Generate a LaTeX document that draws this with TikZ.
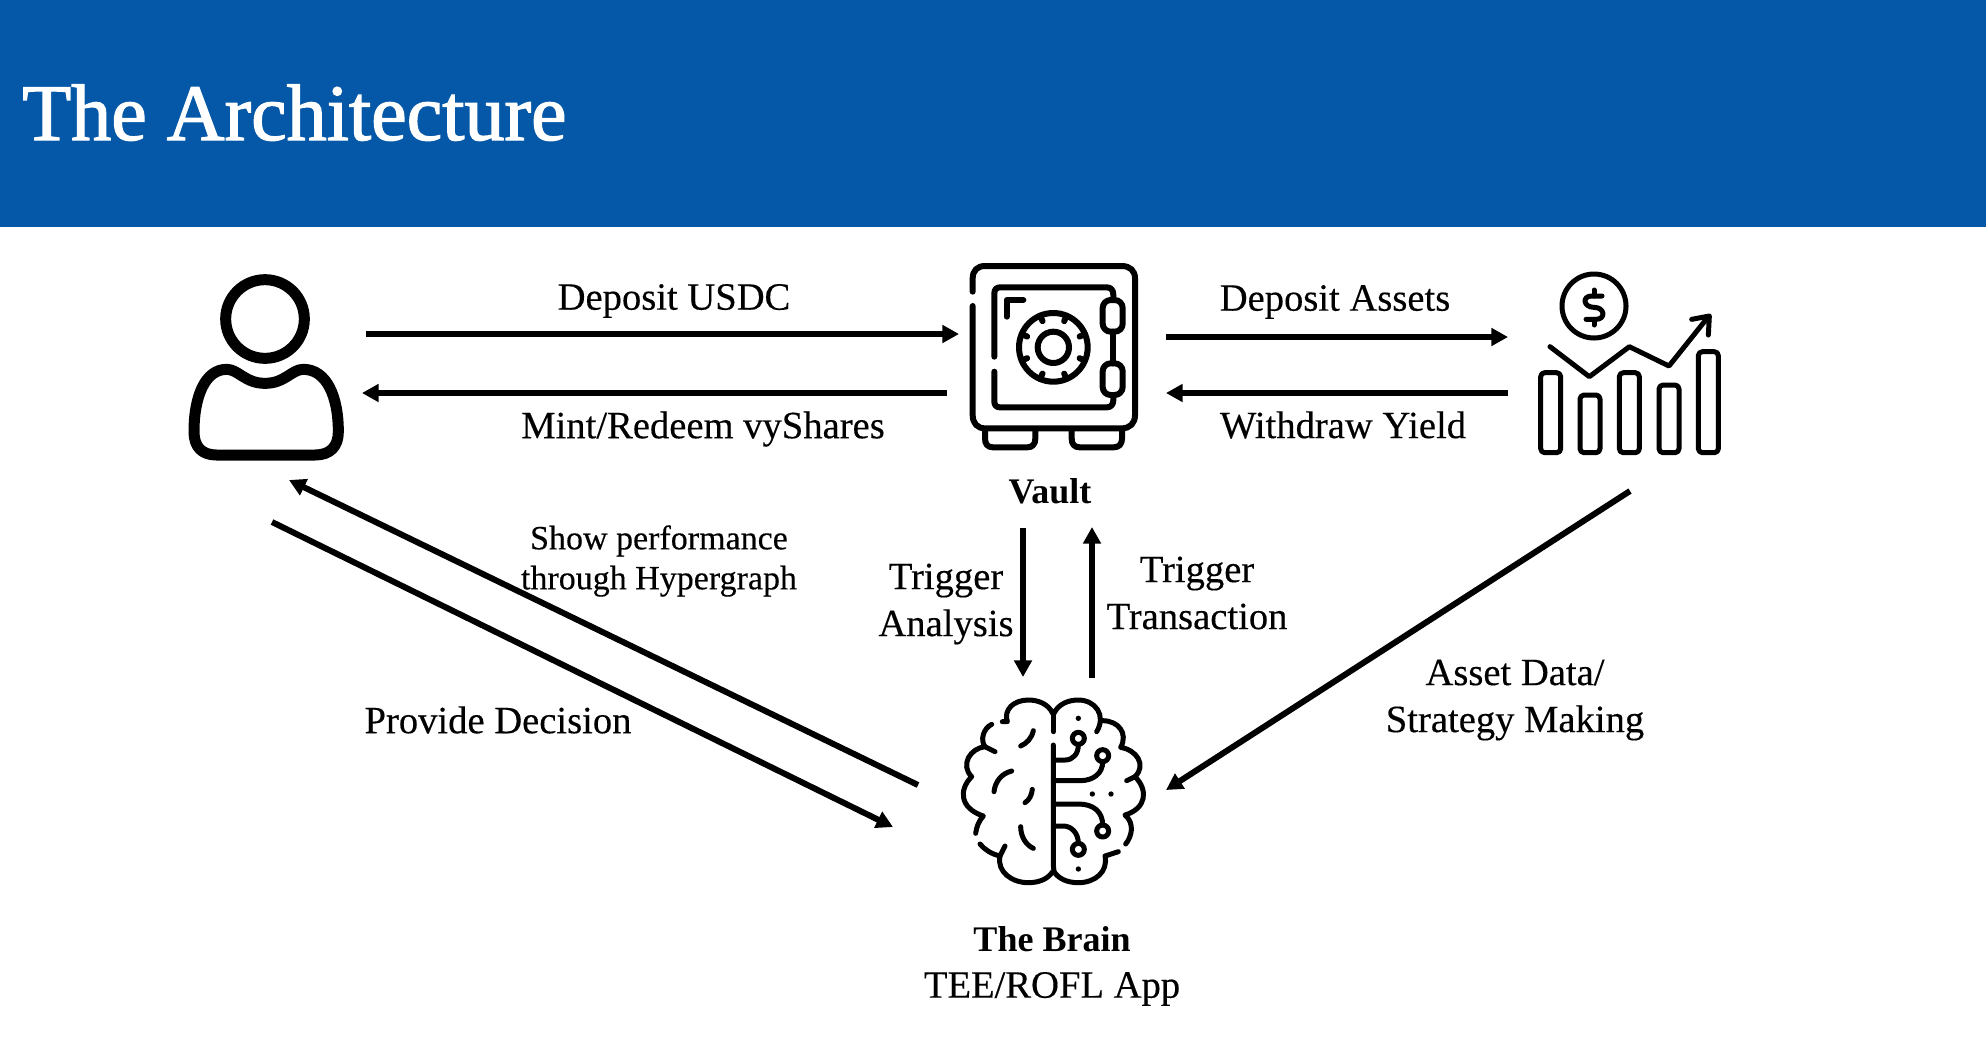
\documentclass[tikz,border=0pt]{standalone}
\usepackage{fontspec}
\setmainfont{Liberation Serif}
\newfontfamily\titlef[FakeBold=1.6]{Liberation Serif}
\newfontfamily\labf[FakeBold=0.3]{Liberation Serif}
\usetikzlibrary{arrows.meta}
\definecolor{hdr}{HTML}{0558A8}
\tikzset{
  lab/.style={inner sep=0pt,align=center,font=\labf\fontsize{19.3}{23.5}\selectfont},
  small/.style={inner sep=0pt,align=center,font=\labf\fontsize{17}{20}\selectfont},
  strong/.style={inner sep=0pt,align=center,font=\fontsize{18}{23.5}\selectfont\bfseries},
  flow/.style={line width=3pt,-{Triangle[length=8.3pt,width=8.6pt]}},
  ico/.style={line width=#1,line cap=round,line join=round},
  ico/.default=3pt
}
\begin{document}
\begin{tikzpicture}[x=0.5pt,y=-0.5pt]
\useasboundingbox (0,0) rectangle (1986,1056);
\fill[hdr] (0,0) rectangle (1986,227);
\node[anchor=base west,inner sep=0pt,text=white,font=\titlef\fontsize{40}{44}\selectfont] (title) at (22,140) {The Architecture};

% person
\begin{scope}[shift={(170,250)},x=0.16667pt,y=-0.16667pt,ico=5.5pt]
\draw (285,207) circle[radius=118];
\draw (170,358) .. controls (205,358) and (225,400) .. (285,400) .. controls (345,400) and (365,358) .. (400,358)
 .. controls (470,358) and (505,440) .. (505,545) .. controls (505,590) and (480,615) .. (435,615)
 -- (140,615) .. controls (95,615) and (72,590) .. (72,545) .. controls (72,440) and (105,358) .. (170,358) -- cycle;
\end{scope}

% vault
\begin{scope}[shift={(950,250)},x=0.16667pt,y=-0.16667pt,ico=3pt]
\draw (68,125) -- (68,85) .. controls (68,62) and (82,48) .. (105,48) -- (515,48) .. controls (540,48) and (555,62) .. (555,85)
 -- (555,495) .. controls (555,520) and (540,535) .. (515,535) -- (105,535) .. controls (82,535) and (68,520) .. (68,495) -- (68,168);
\draw (133,320) -- (133,130) .. controls (133,118) and (140,112) .. (150,112) -- (470,112) .. controls (483,112) and (490,120) .. (490,135) -- (490,150);
\draw (133,365) -- (133,455) .. controls (133,466) and (140,472) .. (150,472) -- (470,472) .. controls (483,472) and (490,464) .. (490,450) -- (490,435);
\draw[rounded corners=4pt] (458,150) rectangle (518,245);
\draw[rounded corners=4pt] (458,340) rectangle (518,435);
\draw (490,245) -- (490,340);
\draw (170,200) -- (170,150) -- (220,150);
\draw (310,292) circle[radius=103];
\draw (310,292) circle[radius=47];
\foreach \a in {22.5,67.5,...,337.5} \draw (310,292) ++(\a:103) -- ++(\a+180:18);
\draw (105,540) -- (105,565) .. controls (105,582) and (112,592) .. (130,592) -- (232,592) .. controls (248,592) and (256,582) .. (256,565) -- (256,540);
\draw (365,540) -- (365,565) .. controls (365,582) and (372,592) .. (390,592) -- (490,592) .. controls (508,592) and (516,582) .. (516,565) -- (516,540);
\end{scope}

% chart
\begin{scope}[shift={(1520,260)},x=0.16667pt,y=-0.16667pt,ico=2.5pt]
\draw (222,138) circle[radius=96];
\draw (246,108) -- (215,108) .. controls (185,108) and (190,142) .. (222,142) .. controls (255,142) and (258,178) .. (228,178) -- (198,178);
\draw (222,90) -- (222,108) (222,178) -- (222,195);
\draw (90,260) -- (208,350) -- (328,260) -- (447,318) -- (565,170);
\draw (515,178) -- (568,168) -- (565,225);
\foreach \l/\t in {62/338,180/405,298/338,417/375,535/275}
  \draw[rounded corners=2pt] (\l,\t) rectangle (\l+60,578);
\end{scope}

% brain
\begin{scope}[shift={(950,690)},x=0.16667pt,y=-0.16667pt,ico=2.5pt]
% right
\draw (312,70) .. controls (325,42) and (355,30) .. (385,30) .. controls (435,30) and (470,75) .. (440,125);
\draw (458,92) .. controls (505,92) and (535,130) .. (512,172) .. controls (560,180) and (590,225) .. (555,260);
\draw (555,260) -- (530,272);
\draw (555,260) .. controls (595,300) and (590,355) .. (525,375) .. controls (555,400) and (545,440) .. (527,462);
\draw (505,485) -- (465,498) .. controls (475,545) and (435,578) .. (385,578) .. controls (350,578) and (325,565) .. (312,545);
% left
\draw (308,70) .. controls (295,42) and (265,30) .. (235,30) .. controls (190,30) and (160,60) .. (172,95) -- (157,95);
\draw (125,103) .. controls (100,115) and (90,150) .. (105,170) -- (135,185);
\draw (105,170) .. controls (60,175) and (30,225) .. (65,260) .. controls (25,300) and (30,355) .. (100,378) .. controls (85,395) and (80,410) .. (77,430);
\draw (90,462) .. controls (105,480) and (125,492) .. (150,498) -- (165,468);
\draw (150,498) .. controls (140,545) and (185,578) .. (235,578) .. controls (270,578) and (295,565) .. (308,545);
% centre
\draw (310,65) -- (310,125);
\draw (310,165) -- (310,525) -- (312,545);
\draw (250,122) .. controls (245,145) and (230,160) .. (212,168);
\draw (185,243) .. controls (155,250) and (135,275) .. (132,305);
\draw (247,298) .. controls (245,315) and (238,330) .. (225,338);
\draw (212,410) .. controls (212,440) and (228,465) .. (250,475);
\foreach \p in {(385,145),(458,197),(458,423),(385,478)} \draw \p circle[radius=18];
\draw (310,210) -- (345,210) .. controls (370,210) and (385,190) .. (385,165);
\draw (310,272) -- (390,272) .. controls (430,272) and (458,250) .. (458,216);
\draw (310,342) -- (385,342) .. controls (430,342) and (458,365) .. (458,405);
\draw (310,408) -- (340,408) .. controls (365,408) and (385,430) .. (385,460);
\foreach \p in {(385,85),(427,312),(483,312),(385,537)} \fill \p circle[radius=8];
\end{scope}

% labels
\node[lab] (l1) at (674,301) {Deposit USDC};
\node[lab] (l2) at (703,429) {Mint/Redeem vyShares};
\node[lab] (l3) at (1335,302) {Deposit Assets};
\node[lab] (l4) at (1343,425) {Withdraw Yield};
\node[strong] (vault) at (1050,491) {Vault};
\node[small] (l5) at (659,561) {Show performance\\through Hypergraph};
\node[lab] (l6) at (946,604) {Trigger\\Analysis};
\node[lab] (l7) at (1197,593) {Trigger\\Transaction};
\node[lab] (l8) at (1515,700) {Asset Data/\\Strategy Making};
\node[lab] (l9) at (498,720) {Provide Decision};
\node[strong] (brain) at (1052,939) {The Brain};
\node[lab] (brain2) at (1052,989) {TEE/ROFL App};

% connectors
\coordinate (uR1) at (366,334); \coordinate (vL1) at (959,334);
\coordinate (vL2) at (947,393); \coordinate (uR2) at (362,393);
\coordinate (vR1) at (1166,337); \coordinate (cL1) at (1508,337);
\coordinate (cL2) at (1508,393); \coordinate (vR2) at (1166,393);
\coordinate (bT1) at (918,785); \coordinate (uB1) at (289,480);
\coordinate (uB2) at (272,522); \coordinate (bT2) at (893,827);
\coordinate (vB1) at (1023,528); \coordinate (bU1) at (1023,677);
\coordinate (bU2) at (1092,678); \coordinate (vB2) at (1092,527);
\coordinate (cB) at (1630,491); \coordinate (bR) at (1166,790);
\draw[flow] (uR1) -- (vL1);
\draw[flow] (vL2) -- (uR2);
\draw[flow] (vR1) -- (cL1);
\draw[flow] (cL2) -- (vR2);
\draw[flow] (bT1) -- (uB1);
\draw[flow] (uB2) -- (bT2);
\draw[flow] (vB1) -- (bU1);
\draw[flow] (bU2) -- (vB2);
\draw[flow] (cB) -- (bR);
\end{tikzpicture}
\end{document}
